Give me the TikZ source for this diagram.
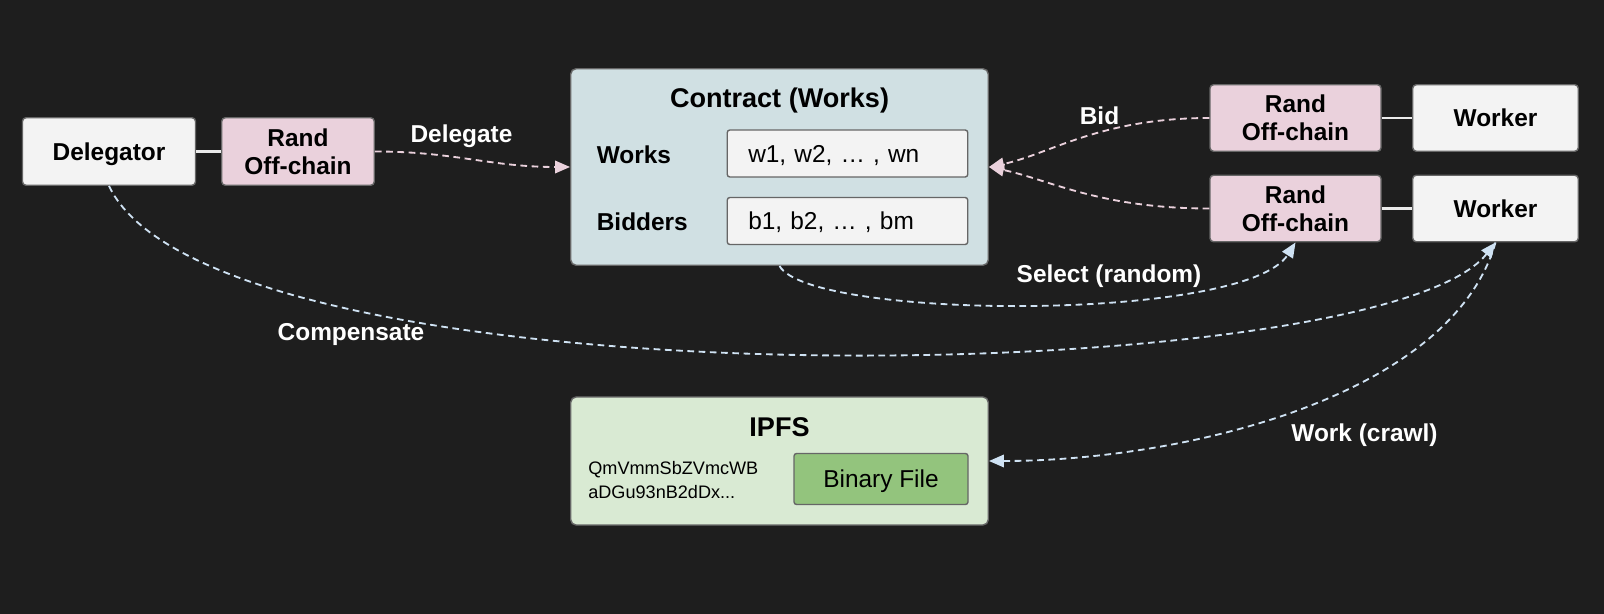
\documentclass[tikz,border=0pt]{standalone}
\usepackage{fontspec}
\setmainfont{Liberation Sans}
\usepackage{xcolor}
\definecolor{bgdark}{HTML}{1E1E1E}
\definecolor{boxline}{HTML}{666666}
\definecolor{boxfill}{HTML}{F3F3F3}
\definecolor{randpink}{HTML}{EAD1DC}
\definecolor{contractblue}{HTML}{D0E0E3}
\definecolor{ipfsgreen}{HTML}{D9EAD3}
\definecolor{filegreen}{HTML}{93C47D}
\definecolor{linkblue}{HTML}{CFE2F3}
\usetikzlibrary{arrows.meta, positioning}
\newcommand{\boxfont}{\fontsize{13.9}{15.7}\selectfont\bfseries}
\newcommand{\plainfont}{\fontsize{13.9}{15.7}\selectfont}
\newcommand{\hashfont}{\fontsize{10.3}{13.9}\selectfont}

\begin{document}
\begin{tikzpicture}[
	box/.style={rectangle, draw=boxline, fill=boxfill, rounded corners=2pt, line width=0.8pt,
	            align=center, inner sep=0pt, font=\boxfont, minimum height=1.35cm},
	onebox/.style={box, text depth=0pt},
	randbox/.style={box, fill=randpink, minimum width=3.05cm},
	panel/.style={rectangle, draw=boxline, rounded corners=3pt, line width=0.8pt, minimum width=8.35cm},
	field/.style={rectangle, draw=boxline, fill=boxfill, rounded corners=1.5pt, line width=0.8pt,
	              minimum width=4.81cm, minimum height=0.94cm, text width=3.97cm, inner xsep=0.42cm,
	              inner ysep=0pt, text depth=0pt, align=left, font=\plainfont},
	lbl/.style={font=\boxfont, text=white, inner sep=1pt},
	tie/.style={draw=white!92!black, line width=1.3pt},
	pinkarr/.style={-{Triangle[length=3mm, width=2.5mm]}, draw=randpink,
	                line width=1.05pt, dash pattern=on 3.8pt off 2.6pt},
	bluearr/.style={-{Triangle[length=3mm, width=2.5mm]}, draw=linkblue,
	                line width=1.05pt, dash pattern=on 3.8pt off 2.6pt}
	]
\fill[bgdark] (0,0) rectangle (32.08,-12.28);
\useasboundingbox (0,0) rectangle (32.08,-12.28);

% delegator side
\node[onebox, minimum width=3.46cm] (deleg) at (2.18,-3.03) {Delegator};
\node[randbox] (rand1) at (5.96,-3.03) {Rand\\Off-chain};
\draw[tie] (deleg) -- (rand1);

% contract
\node[panel, fill=contractblue, minimum height=3.93cm] (contract) at (15.59,-3.34) {};
\node[font=\fontsize{15.4}{18}\selectfont\bfseries] (ctitle) at (15.59,-2.02) {Contract (Works)};
\node[field] (wfield) at (16.95,-3.07) {w1, w2, … , wn};
\node[field] (bfield) at (16.95,-4.42) {b1, b2, … , bm};
\node[font=\boxfont, anchor=west, inner sep=0pt] (wlbl) at (11.93,-3.09) {Works};
\node[font=\boxfont, anchor=west, inner sep=0pt] (blbl) at (11.93,-4.44) {Bidders};

% workers
\node[randbox, minimum width=3.42cm, minimum height=1.33cm] (rand2) at (25.91,-2.36) {Rand\\Off-chain};
\node[onebox, minimum width=3.31cm, minimum height=1.33cm] (work1) at (29.91,-2.36) {Worker};
\node[randbox, minimum width=3.42cm, minimum height=1.33cm] (rand3) at (25.91,-4.17) {Rand\\Off-chain};
\node[onebox, minimum width=3.31cm, minimum height=1.33cm] (work2) at (29.91,-4.17) {Worker};
\draw[tie] (rand2) -- (work1);
\draw[tie] (rand3) -- (work2);

% ipfs
\node[panel, fill=ipfsgreen, minimum height=2.56cm] (ipfs) at (15.59,-9.22) {};
\node[font=\fontsize{15.4}{18}\selectfont\bfseries] (ititle) at (15.59,-8.55) {IPFS};
\node[font=\hashfont, align=left, anchor=west, inner sep=0pt] (hash) at (11.76,-9.6)
	{QmVmmSbZVmcWB\\aDGu93nB2dDx...};
\node[rectangle, draw=boxline, fill=filegreen, rounded corners=1.5pt, line width=0.8pt, text depth=0pt,
      minimum width=3.48cm, minimum height=1.02cm, inner sep=0pt, font=\plainfont] (bfile) at (17.62,-9.58) {Binary File};

% connectors
\draw[pinkarr] (rand1.east) .. controls +(1.6,0) and +(-1.6,0) .. (contract.west);
\node[lbl] (dlbl) at (9.23,-2.72) {Delegate};
\draw[pinkarr] (rand2.west) .. controls +(-2.2,0) and +(1.2,0.25) .. (contract.east);
\draw[pinkarr] (rand3.west) .. controls +(-2.2,0) and +(1.2,-0.25) .. (contract.east);
\node[lbl] (bidlbl) at (21.99,-2.31) {Bid};

\draw[bluearr] (contract.south) .. controls (16.2,-6.4) and (24.9,-6.45) .. (rand3.south);
\node[lbl] (sellbl) at (22.18,-5.52) {Select (random)};

\draw[bluearr] (deleg.south) .. controls (4.3,-8.2) and (27.6,-7.8) .. (work2.south);
\node[lbl] (complbl) at (7.02,-6.69) {Compensate};

\draw[bluearr] (work2.south) .. controls (29.0,-8.0) and (23.5,-9.22) .. (ipfs.east);
\node[lbl] (worklbl) at (27.29,-8.71) {Work (crawl)};
\end{tikzpicture}
\end{document}
